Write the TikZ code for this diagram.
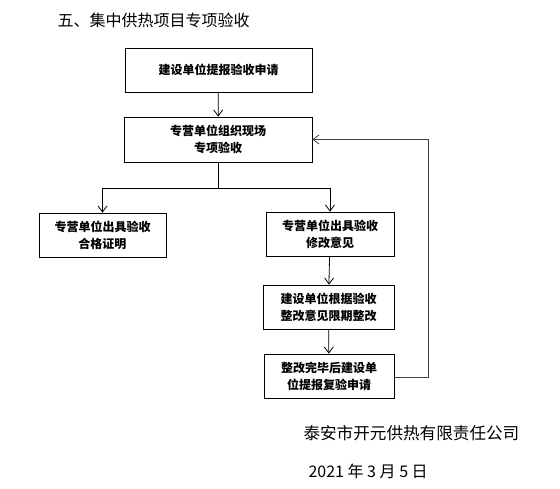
\documentclass[tikz,border=0pt]{standalone}
\usepackage{fontspec}
\newfontfamily\cjk{Noto Sans CJK SC}
\usetikzlibrary{arrows.meta,positioning}

\begin{document}
\begin{tikzpicture}[x=1pt,y=-1pt,
every node/.style={font=\cjk},
stepbox/.style={draw,thick,align=center,inner sep=0pt,
  font=\cjk\bfseries\fontsize{12}{17}\selectfont},
flow/.style={thick,-{Straight Barb[length=6pt,width=9pt]}}]
\useasboundingbox (0,0) rectangle (560,488);
\node[anchor=west,font=\cjk\fontsize{16}{18}\selectfont] (T) at (54,20) {五、集中供热项目专项验收};
\node[stepbox,minimum width=187pt,minimum height=44pt] (B1) at (218.5,70) {建设单位提报验收申请};
\node[stepbox,minimum width=188pt,minimum height=45pt] (B2) at (218,139.5) {专营单位组织现场\\专项验收};
\node[stepbox,minimum width=127pt,minimum height=44pt] (B3) at (102.5,235) {专营单位出具验收\\合格证明};
\node[stepbox,minimum width=128pt,minimum height=44pt] (B4) at (330,234) {专营单位出具验收\\修改意见};
\node[stepbox,minimum width=131pt,minimum height=44pt] (B5) at (328.5,307) {建设单位根据验收\\整改意见限期整改};
\node[stepbox,minimum width=130pt,minimum height=44pt] (B6) at (329,376) {整改完毕后建设单\\位提报复验申请};
\coordinate (J) at (218,188);
\coordinate (R) at (428,377);
\draw[flow] (B1)--(B2);
\draw[thick] (B2)--(J);
\draw[flow] (J)-|(B3);
\draw[flow] (J)-|(B4);
\draw[flow] (B4)--(B5);
\draw[flow] (B5)--(B6);
\draw[flow,black!75] (B6.east|-R)--(R)|-(B2);
\node[anchor=west,font=\cjk\fontsize{16.6}{18}\selectfont] (C) at (300,433) {泰安市开元供热有限责任公司};
\node[anchor=west,font=\cjk\fontsize{16}{18}\selectfont] (D) at (305,471) {2021 年 3 月 5 日};
\end{tikzpicture}
\end{document}
